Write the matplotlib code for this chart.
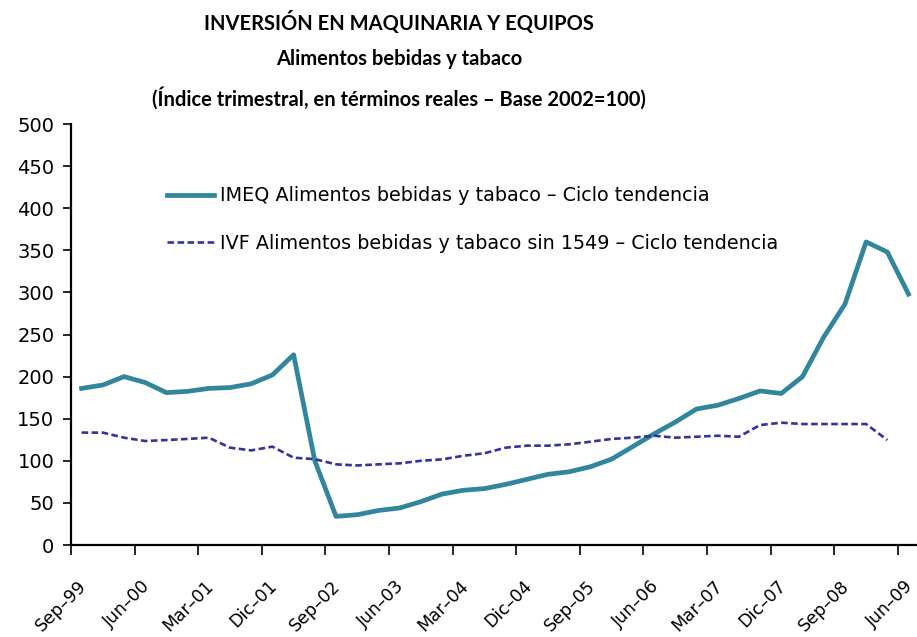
import matplotlib
matplotlib.use("Agg")
import matplotlib.pyplot as plt
from matplotlib import font_manager
from matplotlib.transforms import ScaledTranslation
import numpy as np

months = ["Sep", "Dic", "Mar", "Jun"]
quarters = [f"{months[i % 4]}–{(99 + (i + 2) // 4) % 100:02d}" for i in range(40)]

imeq = [186, 190, 200, 193, 181, 182.5, 186, 187, 191.5, 202,
        226, 100, 34, 36, 41, 44, 51.5, 60.5, 65, 67,
        72, 78, 84, 87, 93, 102, 117, 132, 146, 161.5,
        166, 174, 183, 180, 200, 247, 286, 360, 348, 298]
ivf = [133.5, 133.5, 127.5, 123.5, 124.7, 126, 127.5, 115.6, 112.4, 116.8,
       103.7, 102, 95.8, 94.5, 95.8, 97, 100, 101.7, 106, 109,
       115.6, 118, 118, 119.6, 122.7, 126, 127.5, 129.8, 127.5, 128.6,
       129.8, 128.6, 142.5, 145.3, 143.7, 143.7, 143.7, 143.7, 124.7, np.nan]

label_imeq = "IMEQ Alimentos bebidas y tabaco – Ciclo tendencia"
label_ivf = "IVF Alimentos bebidas y tabaco sin 1549 – Ciclo tendencia"
title = ("INVERSIÓN EN MAQUINARIA Y EQUIPOS\nAlimentos bebidas y tabaco\n"
         "(Índice trimestral, en términos reales – Base 2002=100)")

# narrowest bold face available for the title
installed = {f.name for f in font_manager.fontManager.ttflist}
title_font = next((n for n in ["Liberation Sans Narrow", "Lato", "Liberation Sans"]
                   if n in installed), "DejaVu Sans")

fig = plt.figure(figsize=(9.17, 6.37), dpi=100)
ax = fig.add_axes([0.0774, 0.1444, 0.9226, 0.6609])

x = np.arange(len(quarters))
ax.plot(x, imeq, color="#31859C", lw=3.4, label=label_imeq)
ax.plot(x, ivf, color="#333399", lw=1.9, ls=(0, (2.5, 1.3)), label=label_ivf)

ax.set_xlim(-0.5, 39.4)
ax.set_ylim(0, 500)
ax.set_yticks(np.arange(0, 501, 50))
ax.tick_params(axis="y", labelsize=14, length=6, width=1.2, direction="out", pad=6)

ax.set_xticks(np.arange(-0.5, 39, 3))
ax.set_xticklabels(quarters[::3], rotation=45, ha="right",
                   rotation_mode="anchor", fontsize=12.5)
ax.tick_params(axis="x", length=7, width=1.2, direction="out", pad=16)
shift = ScaledTranslation(4.5 / 72, 0, fig.dpi_scale_trans)
for lab in ax.get_xticklabels():
    lab.set_transform(lab.get_transform() + shift)

for s in ["top", "right"]:
    ax.spines[s].set_visible(False)
for s in ["left", "bottom"]:
    ax.spines[s].set_linewidth(1.6)

ax.legend(loc="upper left", bbox_to_anchor=(0.113, 0.852), frameon=False,
          fontsize=13.8, handlelength=2.5, handletextpad=0.3, labelspacing=1.5,
          borderpad=0, borderaxespad=0)

fig.text(0.435, 0.983, title, ha="center", va="top", fontsize=14.5,
         family=[title_font, "DejaVu Sans"], weight="bold", linespacing=1.95)

fig.savefig("out.png", dpi=100)
